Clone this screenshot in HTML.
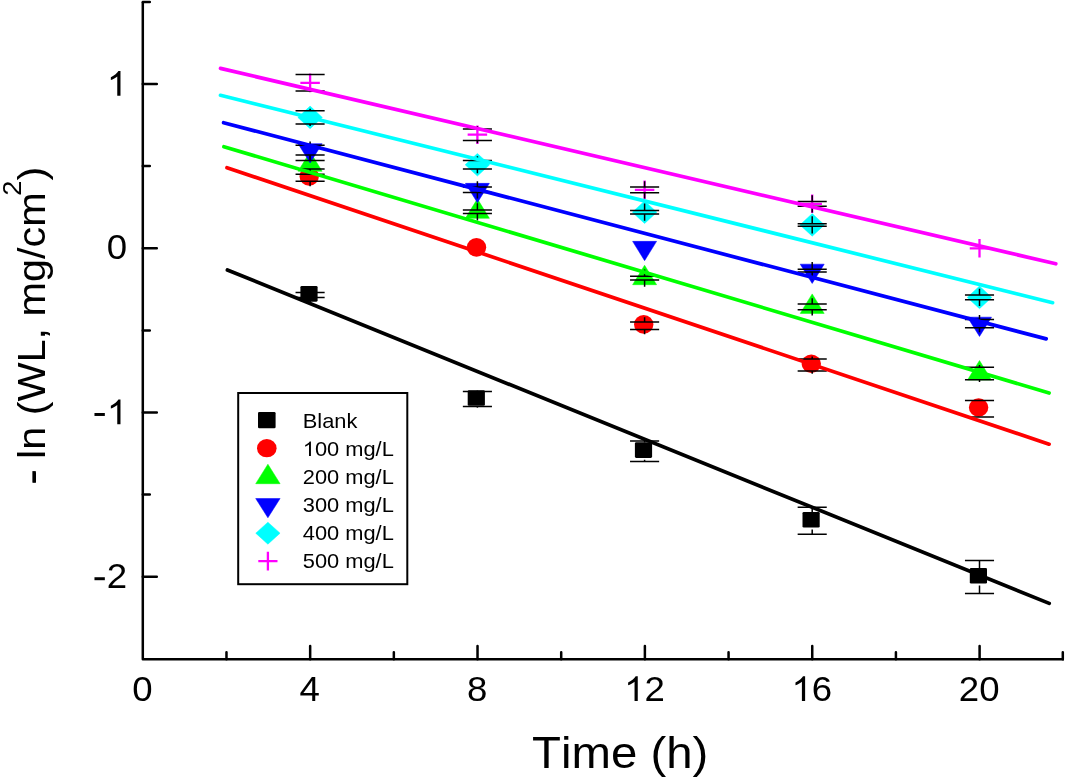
<!DOCTYPE html>
<html><head><meta charset="utf-8"><title>-ln(WL) vs Time</title><style>
html,body{margin:0;padding:0;background:#fff;overflow:hidden;}
svg{display:block;}
text{font-family:'Liberation Sans', sans-serif;font-kerning:none;fill:#000;}
svg{will-change:transform;}
</style></head><body>
<svg width="1065" height="782" viewBox="0 0 1065 782">
<rect width="1065" height="782" fill="#fff"/>
<path d="M142.8 1.9 V659.2 H1064" stroke="#000" stroke-width="2.5" fill="none" stroke-linecap="butt" stroke-linejoin="round"/>
<path d="M142.8 84.00 H156.8 M142.8 248.25 H156.8 M142.8 412.50 H156.8 M142.8 576.75 H156.8 M142.8 1.88 H149.8 M142.8 166.12 H149.8 M142.8 330.38 H149.8 M142.8 494.62 H149.8 M310.16 659.2 V646.1 M477.52 659.2 V646.1 M644.88 659.2 V646.1 M812.24 659.2 V646.1 M979.60 659.2 V646.1 M226.48 659.2 V652.3 M393.84 659.2 V652.3 M561.20 659.2 V652.3 M728.56 659.2 V652.3 M895.92 659.2 V652.3 M1062.8 659.2 V652.3" stroke="#000" stroke-width="2.5" fill="none" stroke-linecap="round"/>
<g transform="translate(142.40,701.00) scale(1.017,1.0)"><text x="-10.01" y="0" font-size="36">0</text></g>
<g transform="translate(309.76,701.00) scale(1.017,1.0)"><text x="-10.01" y="0" font-size="36">4</text></g>
<g transform="translate(477.12,701.00) scale(1.017,1.0)"><text x="-10.01" y="0" font-size="36">8</text></g>
<g transform="translate(644.48,701.00) scale(1.017,1.0)"><path transform="translate(-20.02,0) scale(0.01758,-0.01680)" d="M763 0L583 0L583 1147C540 1106 483 1065 413 1024C343 983 280 952 224 931L224 1105C325 1152 413 1209 488 1276C563 1343 616 1409 647 1466L763 1466Z"/><text x="0.00" y="0" font-size="36">2</text></g>
<g transform="translate(811.84,701.00) scale(1.017,1.0)"><path transform="translate(-20.02,0) scale(0.01758,-0.01680)" d="M763 0L583 0L583 1147C540 1106 483 1065 413 1024C343 983 280 952 224 931L224 1105C325 1152 413 1209 488 1276C563 1343 616 1409 647 1466L763 1466Z"/><text x="0.00" y="0" font-size="36">6</text></g>
<g transform="translate(979.20,701.00) scale(1.017,1.0)"><text x="-20.02" y="0" font-size="36">2</text><text x="0.00" y="0" font-size="36">0</text></g>
<g transform="translate(127.20,95.20) scale(1.017,1.0)"><path transform="translate(-20.02,0.5) scale(0.01758,-0.01680)" d="M763 0L583 0L583 1147C540 1106 483 1065 413 1024C343 983 280 952 224 931L224 1105C325 1152 413 1209 488 1276C563 1343 616 1409 647 1466L763 1466Z"/></g>
<g transform="translate(127.20,259.45) scale(1.017,1.0)"><text x="-20.02" y="0" font-size="36">0</text></g>
<g transform="translate(127.20,423.70) scale(1.017,1.0)"><path transform="translate(-32.01,0) scale(0.01758,-0.01758)" d="M-10 440H570V610H-10Z"/><path transform="translate(-20.02,0.5) scale(0.01758,-0.01680)" d="M763 0L583 0L583 1147C540 1106 483 1065 413 1024C343 983 280 952 224 931L224 1105C325 1152 413 1209 488 1276C563 1343 616 1409 647 1466L763 1466Z"/></g>
<g transform="translate(127.20,587.95) scale(1.017,1.0)"><path transform="translate(-32.01,0) scale(0.01758,-0.01758)" d="M-10 440H570V610H-10Z"/><text x="-20.02" y="0" font-size="36">2</text></g>
<text transform="translate(620.2,768) scale(1.076,1)" text-anchor="middle" font-size="44">Time (h)</text>
<text transform="translate(45,325.5) rotate(-90) scale(1.07,1)" text-anchor="middle" font-size="38.7">- ln (WL, mg/cm<tspan font-size="25.5" dx="-3.2" dy="-24">2</tspan><tspan dy="24">)</tspan></text>
<rect x="32.4" y="471.1" width="3.4" height="11.6" fill="#000"/>
<rect x="300.40" y="286.05" width="17.2" height="15.6" rx="1.3" fill="#000"/>
<ellipse cx="309.20" cy="176.40" rx="9.7" ry="9.35" fill="#f00"/>
<path d="M298.10 171.25 L322.10 171.25 L310.10 151.75 Z" fill="#0f0" stroke="#0f0" stroke-width="0.5" stroke-linejoin="round"/>
<path d="M298.10 143.67 L322.10 143.67 L310.10 162.97 Z" fill="#00f" stroke="#00f" stroke-width="0.5" stroke-linejoin="round"/>
<path d="M310.10 106.10 L322.35 117.40 L310.10 128.70 L297.85 117.40 Z" fill="#0ff" stroke="#0ff" stroke-width="0.5" stroke-linejoin="round"/>
<path d="M300.35 82.85 H319.85 M310.10 73.55 V92.15" stroke="#f0f" stroke-width="2.3" fill="none"/>
<rect x="467.70" y="390.15" width="17.2" height="15.6" rx="1.3" fill="#000"/>
<ellipse cx="476.50" cy="247.30" rx="9.7" ry="9.35" fill="#f00"/>
<path d="M465.40 218.30 L489.40 218.30 L477.40 198.80 Z" fill="#0f0" stroke="#0f0" stroke-width="0.5" stroke-linejoin="round"/>
<path d="M465.40 183.37 L489.40 183.37 L477.40 202.67 Z" fill="#00f" stroke="#00f" stroke-width="0.5" stroke-linejoin="round"/>
<path d="M477.40 153.45 L489.65 164.75 L477.40 176.05 L465.15 164.75 Z" fill="#0ff" stroke="#0ff" stroke-width="0.5" stroke-linejoin="round"/>
<path d="M467.65 134.70 H487.15 M477.40 125.40 V144.00" stroke="#f0f" stroke-width="2.3" fill="none"/>
<rect x="634.90" y="442.30" width="17.2" height="15.6" rx="1.3" fill="#000"/>
<ellipse cx="643.70" cy="324.45" rx="9.7" ry="9.35" fill="#f00"/>
<path d="M632.60 284.70 L656.60 284.70 L644.60 265.20 Z" fill="#0f0" stroke="#0f0" stroke-width="0.5" stroke-linejoin="round"/>
<path d="M632.60 241.37 L656.60 241.37 L644.60 260.67 Z" fill="#00f" stroke="#00f" stroke-width="0.5" stroke-linejoin="round"/>
<path d="M644.60 200.90 L656.85 212.20 L644.60 223.50 L632.35 212.20 Z" fill="#0ff" stroke="#0ff" stroke-width="0.5" stroke-linejoin="round"/>
<path d="M634.85 189.80 H654.35 M644.60 180.50 V199.10" stroke="#f0f" stroke-width="2.3" fill="none"/>
<rect x="802.50" y="511.90" width="17.2" height="15.6" rx="1.3" fill="#000"/>
<ellipse cx="811.30" cy="363.75" rx="9.7" ry="9.35" fill="#f00"/>
<path d="M800.20 313.40 L824.20 313.40 L812.20 293.90 Z" fill="#0f0" stroke="#0f0" stroke-width="0.5" stroke-linejoin="round"/>
<path d="M800.20 264.17 L824.20 264.17 L812.20 283.47 Z" fill="#00f" stroke="#00f" stroke-width="0.5" stroke-linejoin="round"/>
<path d="M812.20 213.60 L824.45 224.90 L812.20 236.20 L799.95 224.90 Z" fill="#0ff" stroke="#0ff" stroke-width="0.5" stroke-linejoin="round"/>
<path d="M802.45 203.80 H821.95 M812.20 194.50 V213.10" stroke="#f0f" stroke-width="2.3" fill="none"/>
<rect x="969.80" y="568.00" width="17.2" height="15.6" rx="1.3" fill="#000"/>
<ellipse cx="978.60" cy="407.50" rx="9.7" ry="9.35" fill="#f00"/>
<path d="M967.50 380.00 L991.50 380.00 L979.50 360.50 Z" fill="#0f0" stroke="#0f0" stroke-width="0.5" stroke-linejoin="round"/>
<path d="M967.50 317.17 L991.50 317.17 L979.50 336.47 Z" fill="#00f" stroke="#00f" stroke-width="0.5" stroke-linejoin="round"/>
<path d="M979.50 286.10 L991.75 297.40 L979.50 308.70 L967.25 297.40 Z" fill="#0ff" stroke="#0ff" stroke-width="0.5" stroke-linejoin="round"/>
<path d="M969.75 248.30 H989.25 M979.50 239.00 V257.60" stroke="#f0f" stroke-width="2.3" fill="none"/>
<path d="M295.55 292.50 H324.65 M295.55 297.40 H324.65 M310.10 286.35 V292.50 M310.10 297.40 V303.55" stroke="#000" stroke-width="1.5" fill="none"/>
<path d="M462.85 391.60 H491.95 M462.85 406.50 H491.95 M477.40 390.45 V391.60 M477.40 406.50 V407.65" stroke="#000" stroke-width="1.5" fill="none"/>
<path d="M630.05 441.00 H659.15 M630.05 461.40 H659.15 M644.60 442.60 V441.00 M644.60 461.40 V459.80" stroke="#000" stroke-width="1.5" fill="none"/>
<path d="M797.65 507.30 H826.75 M797.65 534.30 H826.75 M812.20 512.20 V507.30 M812.20 534.30 V529.40" stroke="#000" stroke-width="1.5" fill="none"/>
<path d="M964.95 560.40 H994.05 M964.95 593.40 H994.05 M979.50 568.30 V560.40 M979.50 593.40 V585.50" stroke="#000" stroke-width="1.5" fill="none"/>
<path d="M295.55 174.20 H324.65 M295.55 181.20 H324.65 M310.10 169.10 V174.20 M310.10 181.20 V186.30" stroke="#000" stroke-width="1.5" fill="none"/>
<path d="M630.05 322.00 H659.15 M630.05 329.50 H659.15 M644.60 317.15 V322.00 M644.60 329.50 V334.35" stroke="#000" stroke-width="1.5" fill="none"/>
<path d="M797.65 359.10 H826.75 M797.65 371.00 H826.75 M812.20 356.45 V359.10 M812.20 371.00 V373.65" stroke="#000" stroke-width="1.5" fill="none"/>
<path d="M964.95 400.60 H994.05 M964.95 417.00 H994.05 M979.50 400.20 V400.60 M979.50 417.00 V417.40" stroke="#000" stroke-width="1.5" fill="none"/>
<path d="M295.55 160.40 H324.65 M295.55 169.10 H324.65 M310.10 156.15 V160.40 M310.10 169.10 V173.35" stroke="#000" stroke-width="1.5" fill="none"/>
<path d="M462.85 210.00 H491.95 M462.85 213.60 H491.95 M477.40 203.20 V210.00 M477.40 213.60 V220.40" stroke="#000" stroke-width="1.5" fill="none"/>
<path d="M630.05 276.30 H659.15 M630.05 280.10 H659.15 M644.60 269.60 V276.30 M644.60 280.10 V286.80" stroke="#000" stroke-width="1.5" fill="none"/>
<path d="M797.65 304.00 H826.75 M797.65 309.80 H826.75 M812.20 298.30 V304.00 M812.20 309.80 V315.50" stroke="#000" stroke-width="1.5" fill="none"/>
<path d="M964.95 367.20 H994.05 M964.95 379.80 H994.05 M979.50 364.90 V367.20 M979.50 379.80 V382.10" stroke="#000" stroke-width="1.5" fill="none"/>
<path d="M295.55 145.30 H324.65 M295.55 154.90 H324.65 M310.10 141.50 V145.30 M310.10 154.90 V158.70" stroke="#000" stroke-width="1.5" fill="none"/>
<path d="M462.85 187.00 H491.95 M462.85 192.60 H491.95 M477.40 181.20 V187.00 M477.40 192.60 V198.40" stroke="#000" stroke-width="1.5" fill="none"/>
<path d="M797.65 269.15 H826.75 M797.65 272.05 H826.75 M812.20 262.00 V269.15 M812.20 272.05 V279.20" stroke="#000" stroke-width="1.5" fill="none"/>
<path d="M964.95 319.55 H994.05 M964.95 327.65 H994.05 M979.50 315.00 V319.55 M979.50 327.65 V332.20" stroke="#000" stroke-width="1.5" fill="none"/>
<path d="M295.55 110.85 H324.65 M295.55 123.95 H324.65 M310.10 108.80 V110.85 M310.10 123.95 V126.00" stroke="#000" stroke-width="1.5" fill="none"/>
<path d="M462.85 160.60 H491.95 M462.85 168.90 H491.95 M477.40 156.15 V160.60 M477.40 168.90 V173.35" stroke="#000" stroke-width="1.5" fill="none"/>
<path d="M630.05 210.45 H659.15 M630.05 213.95 H659.15 M644.60 203.60 V210.45 M644.60 213.95 V220.80" stroke="#000" stroke-width="1.5" fill="none"/>
<path d="M797.65 223.65 H826.75 M797.65 226.15 H826.75 M812.20 216.30 V223.65 M812.20 226.15 V233.50" stroke="#000" stroke-width="1.5" fill="none"/>
<path d="M964.95 294.95 H994.05 M964.95 299.85 H994.05 M979.50 288.80 V294.95 M979.50 299.85 V306.00" stroke="#000" stroke-width="1.5" fill="none"/>
<path d="M295.55 74.60 H324.65 M295.55 91.10 H324.65 M310.10 74.25 V74.60 M310.10 91.10 V91.45" stroke="#000" stroke-width="1.5" fill="none"/>
<path d="M462.85 129.00 H491.95 M462.85 140.40 H491.95 M477.40 126.10 V129.00 M477.40 140.40 V143.30" stroke="#000" stroke-width="1.5" fill="none"/>
<path d="M630.05 186.90 H659.15 M630.05 192.70 H659.15 M644.60 181.20 V186.90 M644.60 192.70 V198.40" stroke="#000" stroke-width="1.5" fill="none"/>
<path d="M797.65 201.40 H826.75 M797.65 206.20 H826.75 M812.20 195.20 V201.40 M812.20 206.20 V212.40" stroke="#000" stroke-width="1.5" fill="none"/>
<line x1="227.4" y1="270.0" x2="1049.2" y2="603.4" stroke="#000" stroke-width="3.7" stroke-linecap="round"/>
<line x1="227.0" y1="167.7" x2="1049.1" y2="444.2" stroke="#f00" stroke-width="3.7" stroke-linecap="round"/>
<line x1="223.9" y1="146.7" x2="1049.1" y2="393.0" stroke="#0f0" stroke-width="3.7" stroke-linecap="round"/>
<line x1="223.6" y1="122.7" x2="1046.2" y2="338.9" stroke="#00f" stroke-width="3.7" stroke-linecap="round"/>
<line x1="220.5" y1="95.3" x2="1052.6" y2="302.7" stroke="#0ff" stroke-width="3.7" stroke-linecap="round"/>
<line x1="220.5" y1="68.4" x2="1055.8" y2="263.8" stroke="#f0f" stroke-width="3.7" stroke-linecap="round"/>
<rect x="238.2" y="393" width="169.1" height="191.2" fill="none" stroke="#000" stroke-width="2"/>
<text transform="translate(302.8,428.0) scale(1.04,1)" x="0" y="0" font-size="21">Blank</text>
<g transform="translate(302.8,455.9) scale(1.04,1)"><path transform="scale(0.01025,-0.00990)" d="M763 0L583 0L583 1147C540 1106 483 1065 413 1024C343 983 280 952 224 931L224 1105C325 1152 413 1209 488 1276C563 1343 616 1409 647 1466L763 1466Z"/><text x="11.68" y="0" font-size="21">00 mg/L</text></g>
<text transform="translate(302.8,483.8) scale(1.04,1)" x="0" y="0" font-size="21">200 mg/L</text>
<text transform="translate(302.8,511.7) scale(1.04,1)" x="0" y="0" font-size="21">300 mg/L</text>
<text transform="translate(302.8,539.6) scale(1.04,1)" x="0" y="0" font-size="21">400 mg/L</text>
<text transform="translate(302.8,567.5) scale(1.04,1)" x="0" y="0" font-size="21">500 mg/L</text>
<rect x="258.00" y="412.00" width="17.6" height="16.2" rx="1.3" fill="#000"/>
<ellipse cx="266.80" cy="448.20" rx="9.8" ry="9.1" fill="#f00"/>
<path d="M255.70 483.70 L280.10 483.70 L267.90 464.20 Z" fill="#0f0" stroke="#0f0" stroke-width="0.5" stroke-linejoin="round"/>
<path d="M255.70 498.50 L280.10 498.50 L267.90 517.80 Z" fill="#00f" stroke="#00f" stroke-width="0.5" stroke-linejoin="round"/>
<path d="M267.90 522.20 L280.05 533.20 L267.90 544.20 L255.75 533.20 Z" fill="#0ff" stroke="#0ff" stroke-width="0.5" stroke-linejoin="round"/>
<path d="M258.30 561.10 H277.50 M267.90 551.80 V570.40" stroke="#f0f" stroke-width="2.3" fill="none"/>
</svg>
</body></html>
